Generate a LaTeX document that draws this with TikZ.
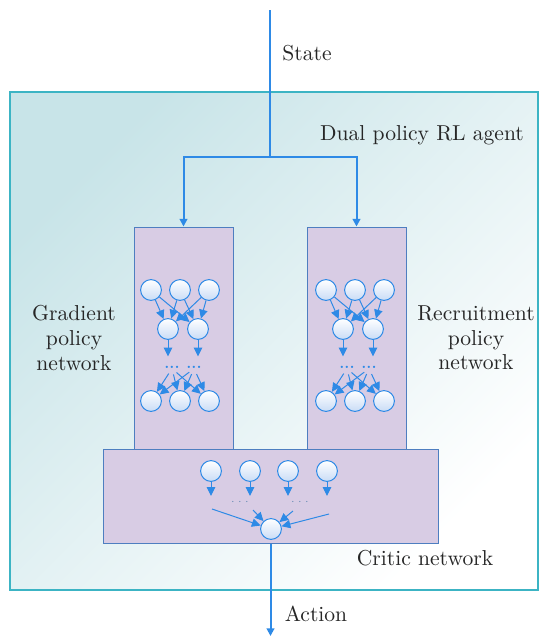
\documentclass[tikz,border=0pt]{standalone}
\usetikzlibrary{arrows.meta,positioning}

\definecolor{agentteal}{HTML}{C8E4E8}
\definecolor{agentedge}{HTML}{3CB4C4}
\definecolor{netfill}{HTML}{D8CCE4}
\definecolor{netedge}{HTML}{4E7EC0}
\definecolor{flowblue}{HTML}{2E8AE6}
\definecolor{cellblue}{HTML}{C9DCF6}

\begin{document}
\begin{tikzpicture}[x=0.5pt, y=-0.5pt,
		flow/.style={draw=flowblue, line width=1pt, -{Triangle[length=3.8pt, width=3.8pt]}},
		link/.style={draw=flowblue, line width=0.5pt, -{Triangle[length=4.4pt, width=4.2pt]}},
		netbox/.style={draw=netedge, fill=netfill, line width=0.5pt, inner sep=0pt},
		cell/.style={circle, draw=flowblue, line width=0.5pt, top color=white, bottom color=cellblue, minimum size=10.4pt, inner sep=0pt},
		dotsmark/.style={inner sep=0pt, text=flowblue, font=\scriptsize\bfseries},
		caption/.style={font=\fontsize{10.8}{12.3}\selectfont, text=black!85, align=center}]
			\useasboundingbox (0,0) rectangle (540,637);

			% Agent frame
			\node[draw=agentedge, line width=0.6pt, top color=agentteal, bottom color=white, shading angle=45,
				minimum width=264pt, minimum height=249pt, inner sep=0pt] (agent) at (274,341) {};
			\node[caption] (agentlbl) at (422,135) {Dual policy RL agent};

			% Policy networks and critic
			\node[netbox, minimum width=49.5pt, minimum height=111.5pt] (gradnet) at (183.5,338.5) {};
			\node[netbox, minimum width=49.5pt, minimum height=111.5pt] (recnet) at (356.5,338.5) {};
			\node[netbox, minimum width=167.5pt, minimum height=47pt] (critic) at (270.5,496) {};

			\node[caption] (gradlbl) at (74,338) {Gradient\\policy\\network};
			\node[caption] (reclbl) at (476,338) {Recruitment\\policy\\network};
			\node[caption] (criticlbl) at (425,558) {Critic network};

			% Neurons inside both policy networks
			\foreach \net/\dx in {g/0, r/175} {
				\foreach \i/\x in {1/151, 2/180, 3/209}
					\node[cell] (\net-a\i) at (\x+\dx,290) {};
				\foreach \i/\x in {1/168, 2/198}
					\node[cell] (\net-b\i) at (\x+\dx,329) {};
				\foreach \i/\x in {1/151, 2/180, 3/209}
					\node[cell] (\net-c\i) at (\x+\dx,401) {};
				\node[dotsmark] (\net-d1) at (172+\dx,367) {...};
				\node[dotsmark] (\net-d2) at (194+\dx,367) {...};

				\foreach \s in {1,2,3}
					\foreach \t in {1,2}
						\draw[link] (\net-a\s) -- (\net-b\t);
				\foreach \t in {1,2}
					\draw[link, shorten >=4.5pt] (\net-b\t) -- (\net-b\t |- \net-d1.north);
				\foreach \s in {1,2}
					\foreach \t in {1,2,3}
						\draw[link, shorten <=3pt] (\net-d\s.south) -- (\net-c\t);
			}

			% Critic neurons
			\foreach \k/\x in {1/211, 2/250, 3/288, 4/327} {
				\node[cell] (c\k) at (\x,471) {};
				\coordinate (ct\k) at (\x,496);
				\draw[link] (c\k) -- (ct\k);
			}
			\node[dotsmark, font=\tiny, text=flowblue!45!gray] (cd1) at (240,502) {$\cdots$};
			\node[dotsmark, font=\tiny, text=flowblue!45!gray] (cd2) at (300,502) {$\cdots$};
			\node[cell] (cout) at (271,529) {};
			\coordinate (cs1) at (212,509);
			\coordinate (cs2) at (253,510);
			\coordinate (cs3) at (293,511);
			\coordinate (cs4) at (329,514);
			\foreach \k in {1,...,4}
				\draw[link] (cs\k) -- (cout);

			% State in, action out
			\coordinate (statein) at (270,10);
			\coordinate (split) at (270,157);
			\coordinate (actout) at (270.5,636);
			\draw[flowblue, line width=1pt] (statein) -- (split);
			\draw[flow] (split) -| (gradnet);
			\draw[flow] (split) -| (recnet);
			\draw[flow] (critic) -- (actout);
			\node[caption] (statelbl) at (307,53) {State};
			\node[caption] (actionlbl) at (316,614) {Action};
		\end{tikzpicture}
\end{document}
